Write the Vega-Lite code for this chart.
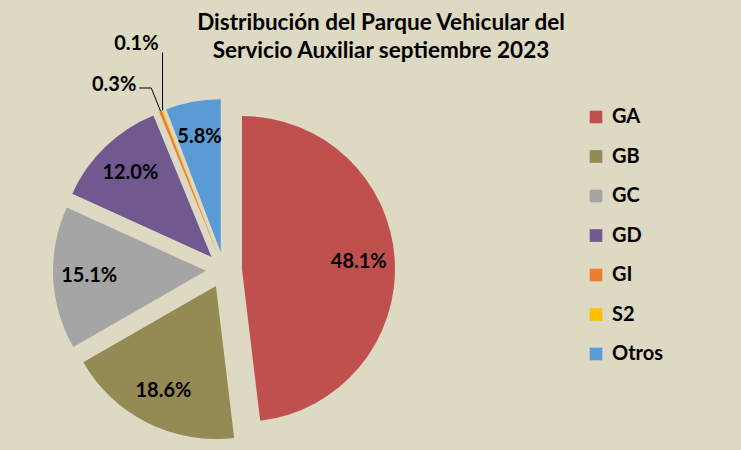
{
  "$schema": "https://vega.github.io/schema/vega-lite/v6.json",
  "width": 448,
  "height": 360,
  "autosize": {"type": "none"},
  "padding": {"left": 0, "top": 90, "right": 293, "bottom": 0},
  "background": "#DDD9C3",
  "title": {
    "text": ["Distribución del Parque Vehicular del", "Servicio Auxiliar septiembre 2023"],
    "font": "Lato",
    "fontSize": 22.5,
    "fontWeight": "bold",
    "color": "#000000",
    "lineHeight": 28,
    "anchor": "middle",
    "frame": "group",
    "dx": 157,
    "offset": -28
  },
  "data": {
    "values": [
      {"grupo": "GA", "pct": 48.1},
      {"grupo": "GB", "pct": 18.6},
      {"grupo": "GC", "pct": 15.1},
      {"grupo": "GD", "pct": 12.0},
      {"grupo": "GI", "pct": 0.3},
      {"grupo": "S2", "pct": 0.1},
      {"grupo": "Otros", "pct": 5.8}
    ]
  },
  "transform": [
    {"window": [{"op": "sum", "field": "pct", "as": "cum"}, {"op": "row_number", "as": "idx"}], "frame": [null, 0]},
    {"joinaggregate": [{"op": "sum", "field": "pct", "as": "total"}]},
    {"calculate": "2*PI*(datum.cum - datum.pct/2)/datum.total", "as": "mid"},
    {"calculate": "format(datum.pct, '.1f') + '%'", "as": "label"}
  ],
  "layer": [
    {
      "mark": {
        "type": "arc",
        "outerRadius": 153,
        "xOffset": {"expr": "18*sin(datum.mid)"},
        "yOffset": {"expr": "-18*cos(datum.mid)"}
      },
      "encoding": {
        "theta": {"field": "pct", "type": "quantitative", "stack": true},
        "order": {"field": "idx", "type": "quantitative"},
        "color": {
          "field": "grupo",
          "type": "nominal",
          "scale": {
            "domain": ["GA", "GB", "GC", "GD", "GI", "S2", "Otros"],
            "range": ["#C0504D", "#948A54", "#A5A5A5", "#71588F", "#ED7D31", "#FFC000", "#5B9BD5"]
          },
          "legend": {
            "title": null,
            "orient": "none",
            "legendX": 586,
            "legendY": 17,
            "padding": 0,
            "symbolType": "square",
            "symbolSize": 160,
            "symbolStrokeWidth": 0,
            "labelFont": "Lato",
            "labelFontSize": 20,
            "labelFontWeight": "bold",
            "labelColor": "#000000",
            "labelOffset": 6,
            "rowPadding": 19.5
          }
        }
      }
    },
    {
      "mark": {"type": "text", "radius": 135, "font": "Lato", "fontSize": 20, "fontWeight": "bold", "color": "#000000"},
      "encoding": {
        "theta": {"field": "pct", "type": "quantitative", "stack": true},
        "order": {"field": "idx", "type": "quantitative"},
        "text": {"condition": {"test": "datum.pct > 1", "field": "label"}, "value": ""}
      }
    },
    {
      "transform": [{"filter": "datum.grupo == 'S2'"}],
      "mark": {"type": "rule", "color": "#000000", "strokeWidth": 1},
      "encoding": {
        "x": {"value": {"expr": "width/2 + 171*sin(datum.mid)"}},
        "y": {"value": {"expr": "height/2 - 171*cos(datum.mid)"}},
        "x2": {"value": {"expr": "width/2 + 171*sin(datum.mid)"}},
        "y2": {"value": {"expr": "height/2 - 171*cos(datum.mid) - 58"}}
      }
    },
    {
      "transform": [{"filter": "datum.grupo == 'S2'"}],
      "mark": {"type": "text", "font": "Lato", "fontSize": 20, "fontWeight": "bold", "color": "#000000", "align": "right", "baseline": "middle"},
      "encoding": {
        "x": {"value": {"expr": "width/2 + 171*sin(datum.mid) - 4"}},
        "y": {"value": {"expr": "height/2 - 171*cos(datum.mid) - 66"}},
        "text": {"field": "label"}
      }
    },
    {
      "transform": [{"filter": "datum.grupo == 'GI'"}],
      "mark": {"type": "rule", "color": "#000000", "strokeWidth": 1},
      "encoding": {
        "x": {"value": {"expr": "width/2 + 171*sin(datum.mid)"}},
        "y": {"value": {"expr": "height/2 - 171*cos(datum.mid)"}},
        "x2": {"value": {"expr": "width/2 + 196*sin(datum.mid)"}},
        "y2": {"value": {"expr": "height/2 - 196*cos(datum.mid)"}}
      }
    },
    {
      "transform": [{"filter": "datum.grupo == 'GI'"}],
      "mark": {"type": "rule", "color": "#000000", "strokeWidth": 1},
      "encoding": {
        "x": {"value": {"expr": "width/2 + 196*sin(datum.mid)"}},
        "y": {"value": {"expr": "height/2 - 196*cos(datum.mid)"}},
        "x2": {"value": {"expr": "width/2 + 196*sin(datum.mid) - 12"}},
        "y2": {"value": {"expr": "height/2 - 196*cos(datum.mid)"}}
      }
    },
    {
      "transform": [{"filter": "datum.grupo == 'GI'"}],
      "mark": {"type": "text", "font": "Lato", "fontSize": 20, "fontWeight": "bold", "color": "#000000", "align": "right", "baseline": "middle"},
      "encoding": {
        "x": {"value": {"expr": "width/2 + 196*sin(datum.mid) - 15"}},
        "y": {"value": {"expr": "height/2 - 196*cos(datum.mid) - 3"}},
        "text": {"field": "label"}
      }
    }
  ],
  "config": {
    "view": {"stroke": null}
  }
}
